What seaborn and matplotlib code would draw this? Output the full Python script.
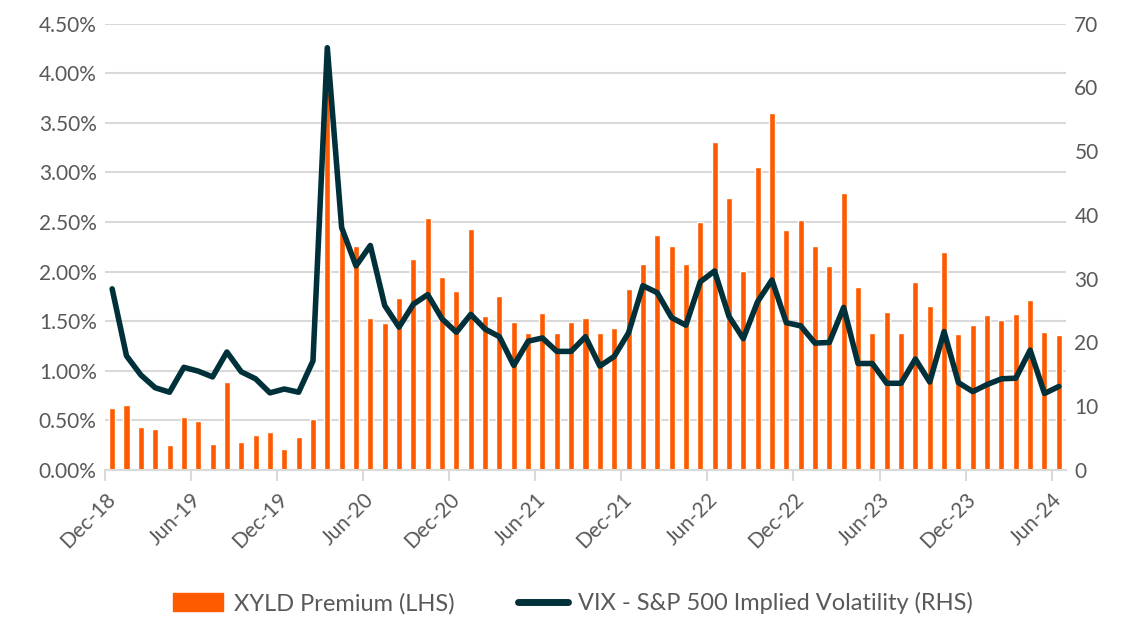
import pandas as pd
import matplotlib
matplotlib.use("Agg")
import matplotlib.pyplot as plt
from matplotlib.patches import Patch
from matplotlib.lines import Line2D
from matplotlib.ticker import PercentFormatter
import seaborn as sns

# monthly data Dec-18 .. Jun-24
months = pd.date_range("2018-12-01", "2024-06-01", freq="MS").strftime("%b-%y").tolist()

xyld_premium = [
    0.63, 0.655, 0.43, 0.416, 0.25, 0.537, 0.497, 0.26, 0.886, 0.28, 0.35, 0.38,
    0.21, 0.33, 0.51, 3.80, 2.40, 2.256, 1.534, 1.483, 1.735, 2.128, 2.535, 1.944,
    1.803, 2.434, 1.548, 1.752, 1.494, 1.376, 1.584, 1.376, 1.494, 1.537, 1.383, 1.433,
    1.826, 2.081, 2.373, 2.256, 2.081, 2.504, 3.31, 2.742, 2.004, 3.054, 3.60, 2.414,
    2.52, 2.26, 2.058, 2.79, 1.84, 1.38, 1.594, 1.383, 1.893, 1.655, 2.199, 1.366,
    1.464, 1.564, 1.511, 1.574, 1.709, 1.393, 1.356,
]

vix = [
    28.4, 17.9, 14.9, 12.9, 12.2, 16.1, 15.5, 14.6, 18.5, 15.4, 14.3, 12.1,
    12.7, 12.2, 17.1, 66.2, 38.0, 32.0, 35.2, 25.8, 22.4, 26.0, 27.5, 23.7,
    21.6, 24.4, 22.1, 20.9, 16.4, 20.2, 20.7, 18.6, 18.6, 20.9, 16.3, 17.8,
    21.5, 28.9, 27.8, 23.9, 22.7, 29.5, 31.2, 24.1, 20.6, 26.4, 29.8, 23.1,
    22.6, 19.9, 20.0, 25.5, 16.7, 16.7, 13.6, 13.6, 17.4, 13.8, 21.7, 13.7,
    12.3, 13.4, 14.3, 14.4, 18.8, 12.0, 13.1,
]

tick_labels = ["Dec-18", "Jun-19", "Dec-19", "Jun-20", "Dec-20", "Jun-21",
               "Dec-21", "Jun-22", "Dec-22", "Jun-23", "Dec-23", "Jun-24"]

df = pd.DataFrame({"month": months, "premium": xyld_premium, "vix": vix})
df["idx"] = range(len(df))

bar_color = "#FF5A00"
line_color = "#00313A"
text_color = "#595959"
grid_color = "#D9D9D9"

sns.set_theme(style="white")
plt.rcParams["font.family"] = ["Lato", "DejaVu Sans"]

fig = plt.figure(figsize=(11.24, 6.17), dpi=100)
ax = fig.add_axes([0.0934, 0.2382, 0.855, 0.7237])

sns.barplot(data=df, x="month", y="premium", color=bar_color, saturation=1,
            width=0.42, ax=ax, zorder=2)
ax.set_ylim(0, 4.5)
ax.set_yticks([i * 0.5 for i in range(10)])
ax.yaxis.set_major_formatter(PercentFormatter(decimals=2))
ax.grid(axis="y", color=grid_color, linewidth=1.5, zorder=0)
ax.set_axisbelow(True)
ax.set_xlim(-0.5, len(df) - 0.5)
ax.set_xticks([-0.5 + 6 * k for k in range(len(tick_labels))])
ax.set_xticklabels(tick_labels, rotation=45, ha="right", rotation_mode="anchor")
ax.set_xlabel("")
ax.set_ylabel("")

ax2 = ax.twinx()
sns.lineplot(data=df, x="idx", y="vix", color=line_color, linewidth=4.0, ax=ax2,
             zorder=3)
ax2.set_ylim(0, 70)
ax2.set_yticks(range(0, 71, 10))
ax2.set_ylabel("")
ax2.set_xlim(-0.5, len(df) - 0.5)

for a in (ax, ax2):
    for s in a.spines.values():
        s.set_visible(False)
    a.tick_params(axis="y", length=0, labelsize=15, labelcolor=text_color, pad=6)
ax.spines["bottom"].set_visible(True)
ax.spines["bottom"].set_color(grid_color)
ax.spines["bottom"].set_linewidth(1.5)
ax.tick_params(axis="x", length=8, width=1.5, color=grid_color, labelsize=15,
               labelcolor=text_color, pad=6, direction="out")
ax.tick_params(axis="x", bottom=True)

handles = [Patch(facecolor=bar_color, edgecolor=bar_color),
           Line2D([0], [0], color=line_color, linewidth=5, solid_capstyle="round")]
leg = fig.legend(handles, ["XYLD Premium (LHS)", "VIX - S&P 500 Implied Volatility (RHS)"],
                 loc="lower center", bbox_to_anchor=(0.51, -0.03), ncol=2, frameon=False,
                 fontsize=17, handlelength=2.1, handleheight=0.75, handletextpad=0.45,
                 columnspacing=2.7)
for t in leg.get_texts():
    t.set_color(text_color)

fig.savefig("out.png", dpi=100)
